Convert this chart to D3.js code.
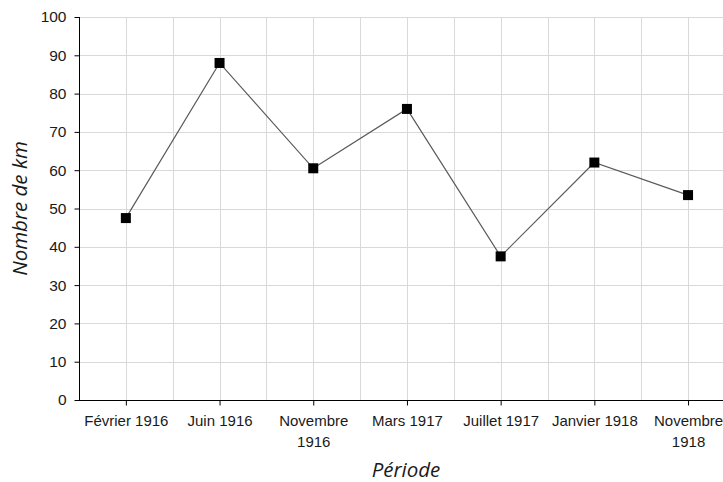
<!DOCTYPE html>
<html>
<head>
<meta charset="utf-8">
<script src="https://cdn.jsdelivr.net/npm/d3@7"></script>
<style>
  html, body { margin: 0; padding: 0; background: #fff; overflow: hidden; }
  svg { display: block; font-family: "Open Sans", "Noto Sans", sans-serif; }
</style>
</head>
<body>
<svg id="chart" width="723" height="482"></svg>
<script>
// Périodes (line breaks mark where the axis label wraps)
const categories = ["Février 1916", "Juin 1916", "Novembre\n1916", "Mars 1917", "Juillet 1917", "Janvier 1918", "Novembre\n1918"];
// Distance in km for each period
const values = [47.5, 88, 60.5, 76, 37.5, 62, 53.5];
const yTicks = [0, 10, 20, 30, 40, 50, 60, 70, 80, 90, 100];

const svg = d3.select("#chart");
const plotLeft = 79, plotTop = 17, plotBottom = 400;
const step = 93.7;
const plotRight = plotLeft + step * categories.length;

const x = d3.scalePoint().domain(categories).range([plotLeft, plotRight]).padding(0.5);
const y = d3.scaleLinear().domain([0, 100]).range([plotBottom, plotTop]);

// Gridlines: horizontal at each tick, vertical at category centres and band edges
const g = svg.append("g");
g.selectAll("line.h").data(yTicks.slice(1)).join("line")
  .attr("x1", plotLeft).attr("x2", plotRight)
  .attr("y1", d => Math.round(y(d)) + 0.5).attr("y2", d => Math.round(y(d)) + 0.5)
  .attr("stroke", "#d9d9d9").attr("stroke-width", 1);
const vx = [];
categories.forEach(c => { vx.push(x(c)); vx.push(x(c) + step / 2); });
g.selectAll("line.v").data(vx).join("line")
  .attr("x1", d => Math.round(d) + 0.5).attr("x2", d => Math.round(d) + 0.5)
  .attr("y1", plotTop).attr("y2", plotBottom)
  .attr("stroke", "#d9d9d9").attr("stroke-width", 1);

// Y axis
const yAxis = svg.append("g").attr("transform", `translate(${plotLeft + 0.5},0)`)
  .call(d3.axisLeft(y).tickValues(yTicks).tickSize(5).tickPadding(8));
yAxis.select(".domain").attr("stroke", "#000").attr("d", `M0,${plotTop}V${plotBottom}`);
yAxis.selectAll(".tick line").attr("stroke", "#000");
yAxis.selectAll(".tick text").attr("fill", "#1a1a1a").attr("font-size", 15.5);

// X axis
const xAxis = svg.append("g").attr("transform", `translate(0,${plotBottom + 0.5})`)
  .call(d3.axisBottom(x).tickSize(5).tickPadding(10));
xAxis.select(".domain").attr("stroke", "#000").attr("d", `M${plotLeft},0H${plotRight}`);
xAxis.selectAll(".tick line").attr("stroke", "#000");
xAxis.selectAll(".tick text").attr("fill", "#1a1a1a").attr("font-size", 15)
  .each(function(d) {
    const t = d3.select(this);
    const lines = d.split("\n");
    t.text(null);
    lines.forEach((ln, i) => {
      t.append("tspan").attr("x", 0).attr("dy", i === 0 ? "0.71em" : "1.4em").text(ln);
    });
  });

// Series line
const line = d3.line().x((d, i) => x(categories[i])).y(d => y(d));
svg.append("path").datum(values)
  .attr("d", line).attr("fill", "none")
  .attr("stroke", "#5a5a5a").attr("stroke-width", 1.2);

// Square markers
svg.selectAll("rect.pt").data(values).join("rect")
  .attr("x", (d, i) => x(categories[i]) - 5)
  .attr("y", d => y(d) - 5)
  .attr("width", 10).attr("height", 10)
  .attr("fill", "#000");

// Axis titles
svg.append("text")
  .attr("transform", `translate(27,${(plotTop + plotBottom) / 2}) rotate(-90)`)
  .attr("text-anchor", "middle")
  .attr("font-size", 20.5).attr("font-style", "italic").attr("fill", "#1a1a1a")
  .text("Nombre de km");
svg.append("text")
  .attr("x", 406).attr("y", 477)
  .attr("text-anchor", "middle")
  .attr("font-size", 20.5).attr("font-style", "italic").attr("fill", "#1a1a1a")
  .text("Période");
</script>
</body>
</html>
